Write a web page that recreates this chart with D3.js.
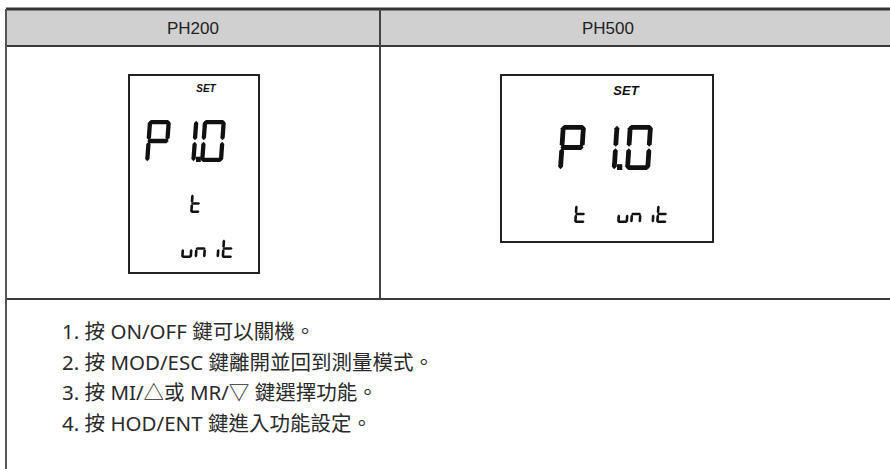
<!DOCTYPE html>
<html><head><meta charset="utf-8">
<script src="https://cdn.jsdelivr.net/npm/d3@7"></script>
<style>html,body{margin:0;padding:0;background:#fff;} svg{display:block}</style>
</head><body><svg id="c" width="890" height="469"></svg>
<script>
// ---- data ----
const columns = ["PH200", "PH500"];
const setLabels = ["SET", "SET"];
const mainReadouts = ["P1.0", "P1.0"];
const lowerReadouts = [["t", "unit"], ["t", "unit"]];
const instructions = [
  "1. 按 ON/OFF 鍵可以關機。",
  "2. 按 MOD/ESC 鍵離開並回到測量模式。",
  "3. 按 MI/△或 MR/▽ 鍵選擇功能。",
  "4. 按 HOD/ENT 鍵進入功能設定。"
];

// ---- layout ----
const svg = d3.select("#c");
const W = 890, H = 469;
const tableLeft = 6, divider = 380, headerTop = 9, headerBottom = 46, rowBottom = 299;
const colStart = d3.scaleOrdinal().domain(columns).range([tableLeft, divider]);
const colEnd = d3.scaleOrdinal().domain(columns).range([divider, W]);
const headerCenter = d3.scaleOrdinal().domain(columns).range([193, 608]);

svg.selectAll("rect.hdr").data(columns).join("rect")
  .attr("x", d => colStart(d)).attr("y", headerTop)
  .attr("width", d => colEnd(d) - colStart(d)).attr("height", headerBottom - headerTop)
  .attr("fill", "#d0d0d0");
svg.selectAll("text.hdr").data(columns).join("text")
  .attr("class","hdr")
  .attr("x", d => headerCenter(d)).attr("y", (headerTop + headerBottom) / 2 + 6)
  .attr("text-anchor", "middle")
  .attr("font-family", "'Liberation Sans Narrow', 'Liberation Sans', Arial, sans-serif")
  .attr("font-size", 17).attr("fill", "#222").text(d => d);

const lines = [
  {x1: tableLeft, y1: headerTop, x2: W, y2: headerTop, w: 3, c: "#333"},
  {x1: tableLeft, y1: headerBottom, x2: W, y2: headerBottom, w: 2, c: "#3a3a3a"},
  {x1: tableLeft, y1: rowBottom, x2: W, y2: rowBottom, w: 2, c: "#3a3a3a"},
  {x1: divider, y1: headerTop, x2: divider, y2: rowBottom, w: 2, c: "#444"},
  {x1: tableLeft, y1: headerTop, x2: tableLeft, y2: H, w: 2, c: "#555"}
];
svg.selectAll("line.grid").data(lines).join("line")
  .attr("x1", d => d.x1).attr("y1", d => d.y1).attr("x2", d => d.x2).attr("y2", d => d.y2)
  .attr("stroke", d => d.c).attr("stroke-width", d => d.w);

// ---- seven segment ----
const glyphs = {
  "P": "abefg", "1": "bc", "0": "abcdef", "t": "defg", "u": "cde", "n": "ceg", "i": "c", " ": ""
};
function segPoly(seg, w, h, t, slant) {
  const g = Math.max(0.5, t * 0.18), hm = h / 2;
  const Hs = (y0, a, b) => [[a+g, y0],[a+g+t/2, y0-t/2],[b-g-t/2, y0-t/2],[b-g, y0],[b-g-t/2, y0+t/2],[a+g+t/2, y0+t/2]];
  const Vs = (x0, a, b) => [[x0, a+g],[x0+t/2, a+g+t/2],[x0+t/2, b-g-t/2],[x0, b-g],[x0-t/2, b-g-t/2],[x0-t/2, a+g+t/2]];
  let pts;
  switch (seg) {
    case "a": pts = Hs(t/2, 0, w); break;
    case "g": pts = Hs(hm, 0, w); break;
    case "d": pts = Hs(h - t/2, 0, w); break;
    case "f": pts = Vs(t/2, 0, hm); break;
    case "e": pts = Vs(t/2, hm, h); break;
    case "b": pts = Vs(w - t/2, 0, hm); break;
    case "c": pts = Vs(w - t/2, hm, h); break;
  }
  return pts.map(([x, y]) => [x + slant * (1 - y / h), y]);
}
function drawSeg(g, str, o) {
  const cells = [];
  for (const ch of str) {
    if (ch === "." && cells.length) cells[cells.length - 1].dot = true;
    else cells.push({ch, dot: false});
  }
  const xs = d3.scaleLinear().domain([0, 1]).range([o.x, o.x + o.pitch]);
  cells.forEach((c, i) => {
    const cg = g.append("g").attr("transform", `translate(${xs(i)},${o.y})`);
    const segs = (glyphs[c.ch] || "").split("");
    cg.selectAll("polygon").data(segs).join("polygon")
      .attr("points", s => segPoly(s, o.w, o.h, o.t, o.slant).map(p => p.join(",")).join(" "))
      .attr("fill", "#111");
    if (c.dot) {
      cg.append("rect").attr("x", o.w + 0.5).attr("y", o.h - o.t - 1)
        .attr("width", o.t + 0.5).attr("height", o.t + 1).attr("fill", "#111");
    }
  });
}

const displays = [
  { box: {x: 129, y: 75, w: 130, h: 198},
    set: {x: 206, y: 92, size: 10},
    main: {x: 145, y: 120, w: 23, h: 42, t: 4.3, pitch: 27.5, slant: 3},
    lower: [
      {x: 190, y: 194, w: 10, h: 19, t: 2.6, pitch: 13.5, slant: 1.2},
      {x: 181, y: 239, w: 11, h: 19, t: 2.6, pitch: 13.5, slant: 1.2}
    ]},
  { box: {x: 501, y: 75, w: 212, h: 167},
    set: {x: 626, y: 95, size: 13},
    main: {x: 558, y: 125, w: 25, h: 45, t: 4.8, pitch: 33.5, slant: 3},
    lower: [
      {x: 574, y: 205, w: 11, h: 18, t: 2.6, pitch: 13, slant: 1.2},
      {x: 617, y: 205, w: 11, h: 18, t: 2.6, pitch: 13, slant: 1.2}
    ]}
];

columns.forEach((col, ci) => {
  const d = displays[ci];
  const g = svg.append("g");
  g.append("rect").attr("x", d.box.x).attr("y", d.box.y).attr("width", d.box.w).attr("height", d.box.h)
    .attr("fill", "#fff").attr("stroke", "#222").attr("stroke-width", 2);
  g.append("text").attr("x", d.set.x).attr("y", d.set.y).attr("text-anchor", "middle")
    .attr("font-family", "'Liberation Sans', Arial, sans-serif").attr("font-style", "italic")
    .attr("font-weight", "bold").attr("font-size", d.set.size).attr("fill", "#111")
    .text(setLabels[ci]);
  drawSeg(g, mainReadouts[ci], d.main);
  lowerReadouts[ci].forEach((s, li) => drawSeg(g, s, d.lower[li]));
});

const yLine = d3.scaleLinear().domain([0, 1]).range([339, 369.7]);
svg.selectAll("text.ins").data(instructions).join("text")
  .attr("class", "ins")
  .attr("x", 62).attr("y", (d, i) => yLine(i))
  .attr("font-family", "'Noto Sans', 'Noto Sans CJK TC', sans-serif")
  .attr("font-size", 20.5).attr("fill", "#2a2a2a")
  .text(d => d);
</script>
</body></html>
